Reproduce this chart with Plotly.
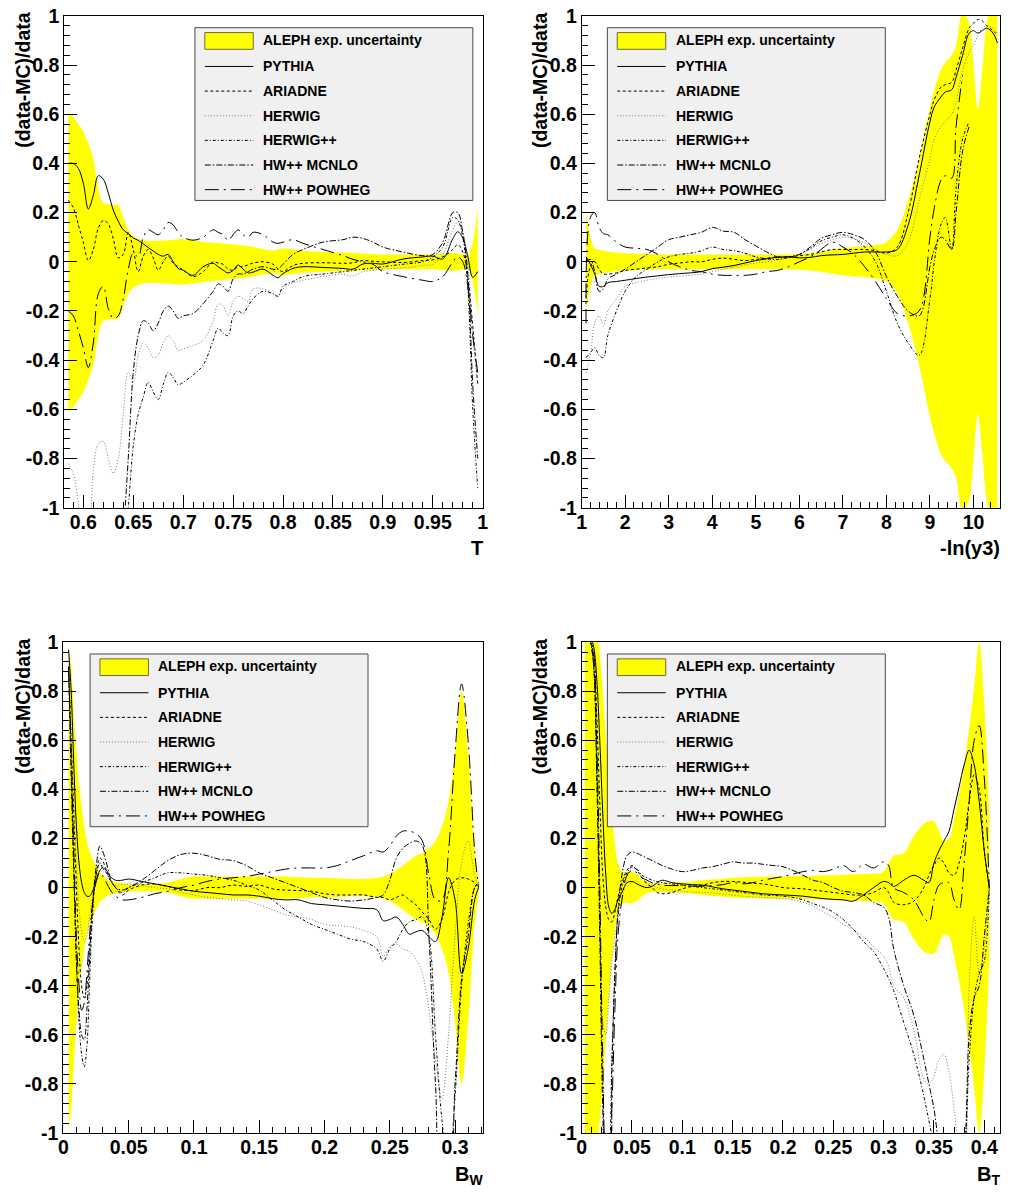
import plotly.graph_objects as go

W, H = 1011, 1197
FONT = "Liberation Sans, Arial, Helvetica, sans-serif"

NAMES = ["PYTHIA", "ARIADNE", "HERWIG", "HERWIG++", "HW++ MCNLO", "HW++ POWHEG"]
BAND_LABEL = "ALEPH exp. uncertainty"
Y_TITLE = "(data-MC)/data"

# ---------------- Panel 1 : Thrust T ----------------
T_X = [0.585, 0.59, 0.595, 0.60, 0.605, 0.61, 0.615, 0.62, 0.625, 0.63, 0.635, 0.64, 0.645, 0.65,
       0.655, 0.66, 0.665, 0.67, 0.675, 0.68, 0.685, 0.69, 0.695, 0.70, 0.71, 0.72, 0.73, 0.735,
       0.74, 0.745, 0.75, 0.755, 0.76, 0.765, 0.77, 0.78, 0.79, 0.795, 0.80, 0.81, 0.82, 0.84,
       0.86, 0.87, 0.88, 0.89, 0.90, 0.92, 0.94, 0.95, 0.96, 0.97, 0.975, 0.98, 0.985, 0.99, 0.995]
T_BAND = [0.61, 0.59, 0.56, 0.53, 0.48, 0.42, 0.30, 0.24, 0.235, 0.232, 0.23, 0.18, 0.13, 0.105,
          0.094, 0.087, 0.086, 0.086, 0.086, 0.087, 0.088, 0.09, 0.092, 0.092, 0.088, 0.082, 0.078, 0.076,
          0.074, 0.072, 0.07, 0.068, 0.066, 0.064, 0.06, 0.052, 0.046, 0.05, 0.055, 0.05, 0.045, 0.04,
          0.038, 0.036, 0.034, 0.032, 0.03, 0.03, 0.03, 0.03, 0.033, 0.036, 0.034, 0.03, 0.026, 0.08, 0.22]
T_PYTHIA = [0.40, 0.40, 0.38, 0.32, 0.215, 0.27, 0.35, 0.336, 0.28, 0.21, 0.165, 0.13, 0.115, 0.097,
            0.087, 0.073, 0.058, 0.044, 0.03, 0.023, 0.03, 0.0, -0.027, -0.034, -0.055, -0.02, -0.006, -0.02,
            -0.034, -0.045, -0.035, -0.013, -0.03, -0.045, -0.042, -0.03, -0.055, -0.065, -0.048, -0.027, -0.02, -0.023,
            -0.027, -0.03, -0.009, -0.006, -0.009, 0.011, 0.02, 0.023, 0.012, 0.094, 0.122, 0.097, 0.023, -0.063, -0.04]
T_ARIADNE = [0.25, 0.22, 0.15, 0.08, 0.005, 0.05, 0.137, 0.168, 0.154, 0.094, 0.016, 0.03, 0.12, 0.05,
             -0.04, 0.023, 0.05, 0.016, -0.034, 0.0, 0.023, -0.006, -0.02, -0.034, -0.06, -0.04, 0.0, -0.005,
             -0.01, -0.03, -0.034, -0.02, -0.02, -0.012, -0.005, 0.0, -0.01, -0.03, -0.04, -0.015, -0.006, -0.004,
             -0.006, -0.004, 0.005, 0.002, 0.0, -0.003, 0.005, 0.008, 0.02, 0.05, 0.07, 0.04, -0.06, -0.26, -0.5]
T_HERWIG = [-0.82, -0.86, -0.98, -1.1, -1.08, -0.85, -0.74, -0.73, -0.80, -0.86, -0.80, -0.62, -0.45, -0.49,
            -0.38, -0.33, -0.35, -0.39, -0.38, -0.33, -0.30, -0.32, -0.36, -0.355, -0.34, -0.32, -0.24, -0.17,
            -0.18, -0.22, -0.16, -0.14, -0.15, -0.16, -0.11, -0.11, -0.13, -0.14, -0.11, -0.085, -0.075, -0.06,
            -0.05, -0.058, -0.04, -0.035, -0.03, -0.025, -0.015, -0.01, 0.03, 0.13, 0.16, 0.12, 0.0, -0.3, -0.5]
T_HERWIGPP = [-1.3, -1.3, -1.3, -1.3, -1.3, -1.3, -1.3, -1.3, -1.3, -1.3, -1.3, -1.2, -1.0, -0.75,
              -0.62, -0.55, -0.49, -0.53, -0.56, -0.5, -0.45, -0.47, -0.5, -0.49, -0.46, -0.42, -0.32, -0.27,
              -0.29, -0.3, -0.22, -0.2, -0.21, -0.18, -0.15, -0.12, -0.13, -0.14, -0.1, -0.08, -0.06, -0.05,
              -0.04, -0.035, -0.03, -0.025, -0.02, -0.01, 0.0, 0.02, 0.06, 0.18, 0.17, 0.1, -0.1, -0.6, -0.92]
T_MCNLO = [-1.3, -1.3, -1.3, -1.3, -1.3, -1.3, -1.3, -1.3, -1.3, -1.3, -1.3, -1.1, -0.8, -0.45,
           -0.3, -0.24, -0.25, -0.28, -0.25, -0.2, -0.18, -0.2, -0.23, -0.22, -0.21, -0.17, -0.12, -0.09,
           -0.1, -0.12, -0.07, -0.05, -0.05, -0.04, -0.03, -0.02, -0.03, -0.03, -0.01, 0.03, 0.05, 0.08,
           0.09, 0.1, 0.095, 0.08, 0.06, 0.04, 0.025, 0.03, 0.08, 0.2, 0.2, 0.12, -0.05, -0.5, -0.8]
T_POWHEG = [-0.2, -0.22, -0.28, -0.35, -0.43, -0.33, -0.13, -0.1, -0.19, -0.23, -0.22, -0.15, -0.03, 0.035,
            0.02, 0.1, 0.13, 0.12, 0.11, 0.13, 0.16, 0.15, 0.12, 0.1, 0.088, 0.1, 0.13, 0.12,
            0.11, 0.087, 0.11, 0.13, 0.11, 0.1, 0.12, 0.11, 0.08, 0.075, 0.08, 0.09, 0.075, 0.05,
            0.025, 0.01, 0.0, -0.01, -0.04, -0.06, -0.075, -0.08, -0.06, 0.0, 0.02, 0.0, -0.1, -0.3, -0.45]

# ---------------- Panel 2 : -ln(y3) ----------------
Y3_X = [1.1, 1.2, 1.3, 1.4, 1.5, 1.6, 1.8, 2.0, 2.25, 2.5, 2.75, 3.0, 3.25, 3.5, 3.75, 4.0, 4.25,
        4.5, 4.75, 5.0, 5.25, 5.5, 5.75, 6.0, 6.25, 6.5, 6.75, 7.0, 7.25, 7.5, 7.75, 8.0, 8.25,
        8.5, 8.75, 9.0, 9.1, 9.25, 9.35, 9.5, 9.6, 9.75, 9.9, 10.0, 10.1, 10.2, 10.3, 10.45, 10.55]
Y3_BAND = [0.2, 0.1, 0.055, 0.05, 0.045, 0.042, 0.038, 0.035, 0.033, 0.032, 0.03, 0.03, 0.03, 0.03, 0.03, 0.03, 0.03,
           0.03, 0.03, 0.03, 0.03, 0.03, 0.03, 0.032, 0.035, 0.04, 0.048, 0.055, 0.06, 0.063, 0.068, 0.08, 0.13,
           0.25, 0.42, 0.63, 0.7, 0.78, 0.81, 0.84, 0.88, 1.02, 0.97, 0.8, 0.62, 0.78, 0.97, 1.1, 1.05]
Y3_PYTHIA = [0.02, -0.01, -0.05, -0.1, -0.1, -0.085, -0.08, -0.075, -0.068, -0.062, -0.057, -0.052, -0.048, -0.045, -0.04, -0.028, -0.022,
             -0.015, -0.005, 0.005, 0.012, 0.018, 0.02, 0.016, 0.018, 0.025, 0.028, 0.03, 0.035, 0.04, 0.04, 0.04, 0.05,
             0.15, 0.35, 0.57, 0.63, 0.67, 0.69, 0.7, 0.75, 0.84, 0.93, 0.94, 0.93, 0.94, 0.95, 0.93, 0.89]
Y3_ARIADNE = [-0.15, -0.02, 0.0, -0.03, -0.05, -0.05, -0.045, -0.035, -0.03, -0.025, -0.02, -0.01, -0.005, 0.0, 0.0, 0.01, 0.015,
              0.01, 0.005, 0.01, 0.015, 0.02, 0.02, 0.025, 0.03, 0.04, 0.05, 0.05, 0.05, 0.05, 0.045, 0.035, 0.06,
              0.2, 0.42, 0.6, 0.66, 0.71, 0.72, 0.73, 0.78, 0.87, 0.95, 0.97, 0.985, 0.98, 0.96, 0.94, 0.92]
Y3_HERWIG = [-0.45, -0.38, -0.25, -0.22, -0.26, -0.2, -0.15, -0.1, -0.085, -0.075, -0.068, -0.062, -0.058, -0.055, -0.05, -0.04, -0.03,
             -0.022, -0.012, -0.005, 0.0, 0.008, 0.015, 0.03, 0.05, 0.075, 0.09, 0.1, 0.095, 0.075, 0.05, 0.03, 0.025,
             0.08, 0.25, 0.42, 0.5, 0.55, 0.57, 0.6, 0.65, 0.78, 0.85, 0.88, 0.92, 0.95, 0.96, 0.95, 0.93]
Y3_HERWIGPP = [-0.39, -0.37, -0.35, -0.38, -0.39, -0.3, -0.2, -0.12, -0.06, -0.03, 0.0, 0.02, 0.03, 0.035, 0.045, 0.06, 0.05,
               0.045, 0.035, 0.02, 0.012, 0.01, 0.018, 0.03, 0.055, 0.085, 0.1, 0.11, 0.095, 0.06, 0.0, -0.12, -0.25,
               -0.33, -0.38, -0.15, 0.0, 0.15, 0.18, 0.05, 0.3, 0.5, 0.57, None, None, None, None, None, None]
Y3_MCNLO = [0.0, 0.01, -0.04, -0.12, -0.11, -0.07, -0.05, -0.03, 0.0, 0.03, 0.06, 0.09, 0.1, 0.11, 0.12, 0.14, 0.125,
            0.12, 0.09, 0.065, 0.04, 0.02, 0.02, 0.03, 0.06, 0.095, 0.11, 0.12, 0.11, 0.09, 0.04, -0.06, -0.14,
            -0.2, -0.22, -0.02, 0.05, 0.1, 0.09, 0.05, 0.2, 0.45, 0.55, None, None, None, None, None, None]
Y3_POWHEG = [-0.25, 0.18, 0.2, 0.14, 0.115, 0.11, 0.08, 0.06, 0.055, 0.05, 0.03, 0.0, -0.02, -0.035, -0.04, -0.05, -0.055,
             -0.055, -0.055, -0.05, -0.04, -0.035, -0.02, 0.0, 0.02, 0.05, 0.08, 0.06, 0.03, -0.02, -0.08, -0.15, -0.21,
             -0.22, -0.2, 0.1, 0.22, 0.33, 0.35, 0.34, 0.55, 0.76, None, None, None, None, None, None, None]

# ---------------- Panel 3 : B_W ----------------
BW_X = [0.004, 0.006, 0.008, 0.01, 0.012, 0.014, 0.016, 0.018, 0.02, 0.022, 0.025, 0.028, 0.03, 0.033,
        0.036, 0.04, 0.045, 0.05, 0.06, 0.07, 0.08, 0.09, 0.1, 0.11, 0.12, 0.13, 0.14, 0.15, 0.16, 0.17,
        0.18, 0.19, 0.2, 0.21, 0.22, 0.23, 0.24, 0.245, 0.25, 0.255, 0.26, 0.265, 0.27, 0.275, 0.28,
        0.285, 0.29, 0.295, 0.3, 0.305, 0.31, 0.315, 0.318]
BW_BAND = [0.98, 0.9, 0.72, 0.55, 0.42, 0.33, 0.25, 0.19, 0.15, 0.12, 0.09, 0.06, 0.05, 0.035,
           0.028, 0.022, 0.018, 0.015, 0.015, 0.015, 0.02, 0.035, 0.045, 0.045, 0.045, 0.045, 0.045, 0.045, 0.045, 0.045,
           0.043, 0.04, 0.04, 0.038, 0.035, 0.035, 0.04, 0.045, 0.055, 0.07, 0.09, 0.11, 0.13, 0.14, 0.16,
           0.19, 0.25, 0.35, 0.55, 0.8, 0.55, 0.15, 0.03]
BW_PYTHIA = [0.97, 0.8, 0.5, 0.25, 0.1, 0.02, -0.02, -0.035, -0.035, -0.02, 0.03, 0.07, 0.08, 0.07,
             0.045, 0.03, 0.03, 0.035, 0.025, 0.015, 0.005, -0.005, -0.015, -0.02, -0.025, -0.03, -0.03, -0.035, -0.045, -0.05,
             -0.05, -0.065, -0.07, -0.075, -0.08, -0.085, -0.09, -0.135, -0.13, -0.12, -0.15, -0.19, -0.18, -0.175, -0.2,
             -0.22, -0.12, 0.04, -0.05, -0.35, -0.25, -0.05, 0.0]
BW_ARIADNE = [0.9, 0.6, 0.3, 0.0, -0.25, -0.4, -0.45, -0.4, -0.25, -0.1, 0.05, 0.12, 0.11, 0.07,
              0.03, 0.0, -0.03, -0.01, 0.01, 0.015, 0.005, -0.01, -0.012, 0.0, 0.0, 0.01, 0.005, 0.01, -0.005, -0.01,
              -0.012, -0.015, -0.025, -0.03, -0.03, -0.03, -0.04, -0.04, -0.05, -0.04, -0.03, -0.05, -0.07, -0.1, -0.13,
              -0.17, -0.13, -0.02, 0.03, 0.04, 0.035, 0.02, 0.0]
BW_HERWIG = [0.95, 0.6, 0.35, 0.1, -0.08, -0.18, -0.22, -0.2, -0.12, -0.05, 0.04, 0.1, 0.09, 0.06,
             0.03, 0.01, 0.012, 0.015, 0.01, 0.0, -0.005, -0.02, -0.03, -0.04, -0.045, -0.05, -0.055, -0.07, -0.09, -0.11,
             -0.12, -0.13, -0.15, -0.155, -0.16, -0.175, -0.2, -0.28, -0.24, -0.23, -0.25, -0.26, -0.29, -0.35, -0.5,
             -0.7, -0.86, -0.6, -0.2, 0.1, 0.19, 0.05, 0.0]
BW_HERWIGPP = [0.9, 0.5, 0.1, -0.3, -0.55, -0.68, -0.73, -0.65, -0.4, -0.15, 0.05, 0.1, 0.08, 0.06,
               0.03, 0.0, -0.02, 0.0, 0.02, 0.04, 0.06, 0.06, 0.055, 0.05, 0.04, 0.03, 0.01, -0.01, -0.05, -0.09,
               -0.12, -0.15, -0.17, -0.19, -0.21, -0.22, -0.25, -0.3, -0.25, -0.22, -0.17, -0.14, -0.13, -0.12, -0.2,
               -0.6, -0.95, -1.15, -0.85, -0.4, -0.15, 0.0, 0.02]
BW_MCNLO = [0.9, 0.45, 0.05, -0.3, -0.5, -0.6, -0.62, -0.5, -0.3, -0.1, 0.08, 0.17, 0.15, 0.1,
            0.04, 0.0, -0.01, 0.0, 0.03, 0.07, 0.11, 0.135, 0.14, 0.13, 0.115, 0.11, 0.09, 0.06, 0.04, 0.02,
            0.0, -0.02, -0.04, -0.05, -0.055, -0.05, -0.04, -0.03, 0.03, 0.12, 0.16, 0.18, 0.19, 0.17, -0.2,
            -0.8, -1.15, -1.15, -0.8, -0.37, -0.2, 0.0, 0.02]
BW_POWHEG = [0.9, 0.55, 0.15, -0.2, -0.4, -0.5, -0.47, -0.35, -0.2, -0.08, 0.02, 0.06, 0.05, 0.02,
             -0.01, -0.035, -0.05, -0.05, -0.04, -0.025, -0.015, 0.0, 0.01, 0.025, 0.035, 0.04, 0.045, 0.055, 0.065, 0.075,
             0.08, 0.08, 0.08, 0.09, 0.11, 0.13, 0.15, 0.145, 0.17, 0.21, 0.23, 0.23, 0.22, 0.19, 0.05,
             -0.05, -0.05, 0.15, 0.55, 0.83, 0.6, 0.15, 0.0]

# ---------------- Panel 4 : B_T ----------------
BT_X = [0.003, 0.006, 0.009, 0.012, 0.015, 0.018, 0.021, 0.024, 0.027, 0.03, 0.033, 0.036,
        0.04, 0.045, 0.05, 0.055, 0.06, 0.065, 0.07, 0.075, 0.08,
        0.09, 0.1, 0.11, 0.12, 0.13, 0.14, 0.15, 0.16, 0.17, 0.18, 0.19, 0.2, 0.21, 0.22, 0.23, 0.24,
        0.25, 0.26, 0.27, 0.28, 0.29, 0.3, 0.305, 0.31, 0.32, 0.33, 0.34,
        0.345, 0.35, 0.355, 0.36, 0.365, 0.37, 0.375, 0.38, 0.385, 0.39, 0.395, 0.4, 0.405]
BT_BAND = [1.1, 1.1, 1.1, 1.1, 1.05, 0.95, 0.8, 0.62, 0.45, 0.3, 0.18, 0.1,
           0.065, 0.062, 0.065, 0.055, 0.035, 0.022, 0.018, 0.018, 0.018,
           0.02, 0.022, 0.025, 0.03, 0.033, 0.036, 0.04, 0.042, 0.043, 0.044, 0.045, 0.045, 0.046, 0.047, 0.048, 0.05,
           0.05, 0.052, 0.053, 0.055, 0.057, 0.065, 0.1, 0.13, 0.14, 0.21, 0.26,
           0.27, 0.27, 0.23, 0.19, 0.2, 0.28, 0.38, 0.5, 0.65, 0.82, 1.0, 0.75, 0.3]
BT_PYTHIA = [1.05, 1.05, 1.02, 0.98, 0.85, 0.6, 0.3, 0.05, -0.08, -0.105, -0.09, -0.05,
             -0.02, 0.02, 0.025, 0.015, 0.005, 0.0, 0.005, 0.02, 0.03,
             0.02, 0.015, 0.012, 0.01, 0.003, -0.005, -0.01, -0.015, -0.02, -0.025, -0.028, -0.03, -0.032, -0.035, -0.04, -0.045,
             -0.048, -0.05, -0.055, -0.03, 0.0, 0.025, 0.02, 0.005, 0.03, 0.05, 0.03,
             0.02, 0.1, 0.15, 0.19, 0.23, 0.32, 0.41, 0.5, 0.56, 0.5, 0.35, 0.15, 0.0]
BT_ARIADNE = [1.05, 1.05, 1.0, 0.95, 0.7, 0.35, 0.05, -0.08, -0.13, -0.14, -0.1, -0.04,
              0.02, 0.07, 0.09, 0.07, 0.04, 0.015, 0.0, -0.02, -0.025,
              -0.02, -0.005, 0.005, 0.01, 0.02, 0.025, 0.025, 0.022, 0.018, 0.015, 0.008, 0.0, -0.003, -0.005, -0.01, -0.015,
              -0.02, -0.025, -0.03, -0.03, -0.02, 0.0, -0.02, -0.06, -0.07, -0.055, 0.0,
              0.05, 0.09, 0.12, 0.1, 0.06, 0.05, 0.1, 0.2, 0.35, 0.46, 0.4, 0.15, 0.0]
BT_HERWIG = [1.05, 1.05, 1.0, 0.9, 0.5, 0.0, -0.55, -0.6, -0.45, -0.3, -0.2, -0.12,
             -0.05, 0.04, 0.08, 0.07, 0.04, 0.02, 0.01, 0.0, -0.005,
             -0.01, -0.015, -0.018, -0.02, -0.022, -0.025, -0.03, -0.035, -0.038, -0.04, -0.042, -0.045, -0.05, -0.06, -0.075, -0.1,
             -0.12, -0.15, -0.17, -0.2, -0.24, -0.28, -0.32, -0.4, -0.45, -0.58, -0.78,
             -0.8, -0.77, -0.7, -0.68, -0.75, -0.9, -1.05, -1.1, -0.4, -0.12, -0.35, -0.25, 0.0]
BT_HERWIGPP = [1.05, 1.05, 1.0, 0.9, 0.5, -0.1, -0.8, -1.15, -1.1, -0.7, -0.35, -0.12,
               0.0, 0.06, 0.085, 0.075, 0.05, 0.04, 0.03, 0.025, 0.02,
               0.015, 0.01, 0.005, 0.0, -0.005, -0.01, -0.015, -0.02, -0.025, -0.03, -0.032, -0.035, -0.04, -0.05, -0.065, -0.08,
               -0.1, -0.13, -0.17, -0.22, -0.26, -0.33, -0.37, -0.42, -0.55, -0.68, -0.85,
               -0.95, -1.05, -1.15, -1.2, -1.2, -1.2, -1.2, -1.1, -0.7, -0.45, -0.35, -0.3, 0.0]
BT_MCNLO = [1.05, 1.05, 1.0, 0.9, 0.45, -0.2, -0.9, -1.15, -1.15, -0.75, -0.35, -0.1,
            0.05, 0.13, 0.145, 0.14, 0.13, 0.12, 0.11, 0.1, 0.09,
            0.075, 0.065, 0.07, 0.08, 0.085, 0.095, 0.105, 0.1, 0.1, 0.095, 0.09, 0.085, 0.07, 0.05, 0.03, 0.02,
            0.0, -0.015, -0.02, -0.03, -0.06, -0.08, -0.12, -0.25, -0.4, -0.52, -0.7,
            -0.8, -0.9, -1.05, -1.15, -1.2, -1.2, -1.2, -1.1, -0.6, -0.45, -0.4, -0.2, 0.0]
BT_POWHEG = [1.05, 1.05, 1.02, 0.95, 0.6, 0.0, -0.7, -1.1, -1.15, -0.9, -0.5, -0.2,
             -0.05, 0.05, 0.07, 0.06, 0.04, 0.03, 0.02, 0.015, 0.01,
             0.008, 0.008, 0.006, 0.005, 0.008, 0.012, 0.02, 0.015, 0.02, 0.03, 0.038, 0.045, 0.055, 0.065, 0.07, 0.065,
             0.075, 0.09, 0.065, 0.095, 0.08, 0.105, 0.09, 0.0, -0.02, -0.05, -0.12,
             -0.14, -0.05, 0.01, 0.02, 0.02, -0.05, -0.09, 0.1, 0.35, 0.6, 0.66, 0.45, 0.0]

# ---------------- tick labels ----------------
Y_TICKS = [-1.0, -0.8, -0.6, -0.4, -0.2, 0.0, 0.2, 0.4, 0.6, 0.8, 1.0]
Y_TICKTEXT = ["-1", "-0.8", "-0.6", "-0.4", "-0.2", "0", "0.2", "0.4", "0.6", "0.8", "1"]
T_TICKS = [0.6, 0.65, 0.7, 0.75, 0.8, 0.85, 0.9, 0.95, 1.0]
T_TICKTEXT = ["0.6", "0.65", "0.7", "0.75", "0.8", "0.85", "0.9", "0.95", "1"]
Y3_TICKS = [1, 2, 3, 4, 5, 6, 7, 8, 9, 10]
Y3_TICKTEXT = ["1", "2", "3", "4", "5", "6", "7", "8", "9", "10"]
BW_TICKS = [0.0, 0.05, 0.1, 0.15, 0.2, 0.25, 0.3]
BW_TICKTEXT = ["0", "0.05", "0.1", "0.15", "0.2", "0.25", "0.3"]
BT_TICKS = [0.0, 0.05, 0.1, 0.15, 0.2, 0.25, 0.3, 0.35, 0.4]
BT_TICKTEXT = ["0", "0.05", "0.1", "0.15", "0.2", "0.25", "0.3", "0.35", "0.4"]

# ---------------- styles / layout geometry ----------------
STYLES = [
    dict(color="#000000", dash="solid"),
    dict(color="#000000", dash="3px,2.5px"),
    dict(color="#7a7a7a", dash="1px,2px"),
    dict(color="#000000", dash="3px,2px,1px,2px"),
    dict(color="#000000", dash="6px,2px,1.5px,2px"),
    dict(color="#000000", dash="14px,5px,2px,5px"),
]

PANELS = [
    dict(x=T_X, band=T_BAND, series=[T_PYTHIA, T_ARIADNE, T_HERWIG, T_HERWIGPP, T_MCNLO, T_POWHEG],
         px=(60, 483), py=(5, 506), xr=[0.581, 1.0], tv=T_TICKS, tt=T_TICKTEXT, minor=0.01,
         xtitle="T", xty=547, leg=(192, 17), ytx=18),
    dict(x=Y3_X, band=Y3_BAND, series=[Y3_PYTHIA, Y3_ARIADNE, Y3_HERWIG, Y3_HERWIGPP, Y3_MCNLO, Y3_POWHEG],
         px=(583, 1006), py=(5, 506), xr=[1.0, 10.61], tv=Y3_TICKS, tt=Y3_TICKTEXT, minor=0.2,
         xtitle="-ln(y3)", xty=547, leg=(609, 17), ytx=541),
    dict(x=BW_X, band=BW_BAND, series=[BW_PYTHIA, BW_ARIADNE, BW_HERWIG, BW_HERWIGPP, BW_MCNLO, BW_POWHEG],
         px=(59, 483), py=(643, 1143), xr=[0.0, 0.3212], tv=BW_TICKS, tt=BW_TICKTEXT, minor=0.01,
         xtitle="B<sub>W</sub>", xty=1186, leg=(86, 655), ytx=18),
    dict(x=BT_X, band=BT_BAND, series=[BT_PYTHIA, BT_ARIADNE, BT_HERWIG, BT_HERWIGPP, BT_MCNLO, BT_POWHEG],
         px=(583, 1006), py=(643, 1143), xr=[0.0, 0.4157], tv=BT_TICKS, tt=BT_TICKTEXT, minor=0.01,
         xtitle="B<sub>T</sub>", xty=1186, leg=(609, 655), ytx=541),
]

LEG_W, LEG_H = 281, 176


def fx(p):
    return p / W


def fy(p):
    return 1 - p / H


fig = go.Figure()
shapes = []
annotations = []
layout_axes = {}

for i, P in enumerate(PANELS):
    n = i + 1
    xa = "x" if n == 1 else f"x{n}"
    ya = "y" if n == 1 else f"y{n}"
    # band: lower edge, then upper edge filled down to it
    fig.add_trace(go.Scatter(x=P["x"], y=[-v for v in P["band"]], mode="lines",
                             line=dict(width=0, shape="spline", color="#ffff00"),
                             hoverinfo="skip", showlegend=False, xaxis=xa, yaxis=ya))
    fig.add_trace(go.Scatter(x=P["x"], y=P["band"], mode="lines", fill="tonexty",
                             fillcolor="#ffff00", line=dict(width=0, shape="spline", color="#ffff00"),
                             name=BAND_LABEL, showlegend=False, xaxis=xa, yaxis=ya))
    for name, ys, st in zip(NAMES, P["series"], STYLES):
        fig.add_trace(go.Scatter(x=P["x"], y=ys, mode="lines", name=name, showlegend=False,
                                 line=dict(color=st["color"], width=1, dash=st["dash"],
                                           shape="spline", smoothing=1.0),
                                 connectgaps=False, xaxis=xa, yaxis=ya))

    tickfont = dict(family=FONT, size=19.5, color="black", weight="bold")
    layout_axes["xaxis" if n == 1 else f"xaxis{n}"] = dict(
        domain=[fx(P["px"][0]), fx(P["px"][1])], anchor=ya, range=P["xr"],
        tickmode="array", tickvals=P["tv"], ticktext=P["tt"], ticks="inside", ticklen=13,
        tickwidth=1, tickcolor="black", tickfont=tickfont, ticklabelstandoff=-3,
        minor=dict(tickmode="linear", tick0=0, dtick=P["minor"], ticks="inside", ticklen=6,
                   tickwidth=1, tickcolor="black", showgrid=False),
        showline=True, linecolor="black", linewidth=1, mirror=True,
        showgrid=False, zeroline=False, fixedrange=True)
    layout_axes["yaxis" if n == 1 else f"yaxis{n}"] = dict(
        domain=[fy(P["py"][1]), fy(P["py"][0])], anchor=xa, range=[-1, 1],
        tickmode="array", tickvals=Y_TICKS, ticktext=Y_TICKTEXT, ticks="inside", ticklen=13,
        tickwidth=1, tickcolor="black", tickfont=tickfont,
        minor=dict(tickmode="linear", tick0=0, dtick=0.04, ticks="inside", ticklen=6,
                   tickwidth=1, tickcolor="black", showgrid=False),
        showline=True, linecolor="black", linewidth=1, mirror=True,
        showgrid=False, zeroline=False, fixedrange=True)

    # axis titles (right / top aligned like ROOT)
    annotations.append(dict(text=Y_TITLE, textangle=-90, xref="paper", yref="paper",
                            x=fx(P["ytx"]), y=fy(max(P["py"][0] - 5, 0)), xanchor="center", yanchor="top",
                            showarrow=False, borderpad=0,
                            font=dict(family=FONT, size=19.5, color="black", weight="bold")))
    annotations.append(dict(text=P["xtitle"], xref="paper", yref="paper",
                            x=fx(P["px"][1] + 1), y=fy(P["xty"]), xanchor="right", yanchor="middle",
                            showarrow=False, borderpad=0,
                            font=dict(family=FONT, size=20, color="black", weight="bold")))

    # legend box
    lx, ly = P["leg"]
    shapes.append(dict(type="rect", xref="paper", yref="paper", layer="above",
                       x0=fx(lx), x1=fx(lx + LEG_W), y0=fy(ly + LEG_H), y1=fy(ly),
                       fillcolor="#f0f0f0", line=dict(color="#4a4a4a", width=1)))
    shapes.append(dict(type="rect", xref="paper", yref="paper", layer="above",
                       x0=fx(lx + 10), x1=fx(lx + 59), y0=fy(ly + 22), y1=fy(ly + 5),
                       fillcolor="#ffff00", line=dict(color="#6b6b3a", width=1)))
    annotations.append(dict(text=BAND_LABEL, xref="paper", yref="paper", x=fx(lx + 68), y=fy(ly + 12.5),
                            xanchor="left", yanchor="middle", showarrow=False, borderpad=0,
                            font=dict(family=FONT, size=14, color="black", weight="bold")))
    for k, (name, st) in enumerate(zip(NAMES, STYLES)):
        ry = ly + 39.5 + 25.1 * k
        shapes.append(dict(type="line", xref="paper", yref="paper", layer="above",
                           x0=fx(lx + 10), x1=fx(lx + 59), y0=fy(ry), y1=fy(ry),
                           line=dict(color=st["color"], width=1, dash=st["dash"])))
        annotations.append(dict(text=name, xref="paper", yref="paper", x=fx(lx + 68), y=fy(ry),
                                xanchor="left", yanchor="middle", showarrow=False, borderpad=0,
                                font=dict(family=FONT, size=14, color="black", weight="bold")))

fig.update_layout(
    width=W, height=H, autosize=False,
    margin=dict(l=0, r=0, t=0, b=0),
    paper_bgcolor="white", plot_bgcolor="white",
    showlegend=False, shapes=shapes, annotations=annotations,
    font=dict(family=FONT, color="black"),
    **layout_axes,
)

fig.write_html("out.html")
